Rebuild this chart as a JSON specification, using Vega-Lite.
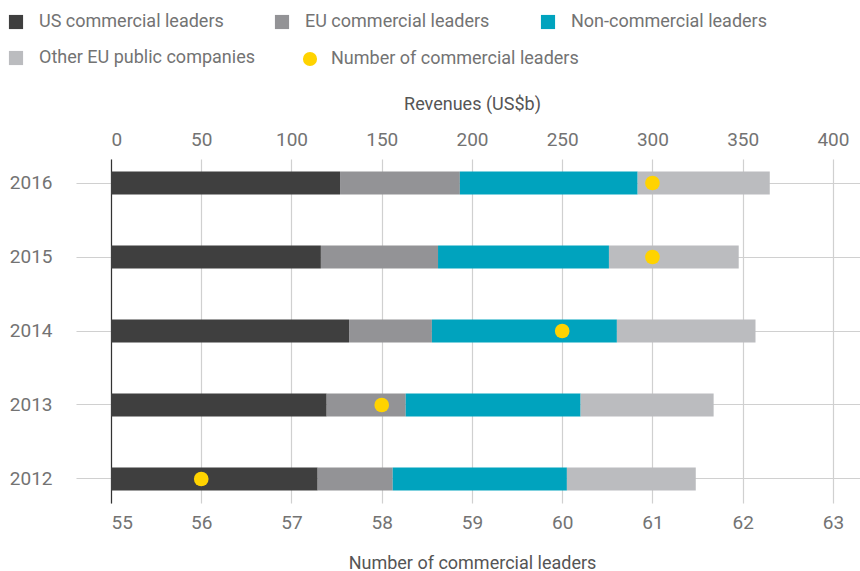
{
  "$schema": "https://vega.github.io/schema/vega-lite/v6.json",
  "autosize": {"type": "none"},
  "padding": {"left": 111, "top": 159, "right": 0, "bottom": 68},
  "width": 749,
  "height": 344,
  "background": "white",
  "datasets": {
    "revenues": [
      {"year": "2016", "series": "US commercial leaders", "value": 126.9},
      {"year": "2016", "series": "EU commercial leaders", "value": 66.4},
      {"year": "2016", "series": "Non-commercial leaders", "value": 98.5},
      {"year": "2016", "series": "Other EU public companies", "value": 73.2},
      {"year": "2015", "series": "US commercial leaders", "value": 116.3},
      {"year": "2015", "series": "EU commercial leaders", "value": 64.9},
      {"year": "2015", "series": "Non-commercial leaders", "value": 94.7},
      {"year": "2015", "series": "Other EU public companies", "value": 71.9},
      {"year": "2014", "series": "US commercial leaders", "value": 131.9},
      {"year": "2014", "series": "EU commercial leaders", "value": 45.9},
      {"year": "2014", "series": "Non-commercial leaders", "value": 102.5},
      {"year": "2014", "series": "Other EU public companies", "value": 76.8},
      {"year": "2013", "series": "US commercial leaders", "value": 119.5},
      {"year": "2013", "series": "EU commercial leaders", "value": 43.8},
      {"year": "2013", "series": "Non-commercial leaders", "value": 96.9},
      {"year": "2013", "series": "Other EU public companies", "value": 73.7},
      {"year": "2012", "series": "US commercial leaders", "value": 114.5},
      {"year": "2012", "series": "EU commercial leaders", "value": 41.6},
      {"year": "2012", "series": "Non-commercial leaders", "value": 96.5},
      {"year": "2012", "series": "Other EU public companies", "value": 71.4}
    ],
    "leaders": [
      {"year": "2016", "leaders": 61},
      {"year": "2015", "leaders": 61},
      {"year": "2014", "leaders": 60},
      {"year": "2013", "leaders": 58},
      {"year": "2012", "leaders": 56}
    ]
  },
  "config": {
    "view": {"stroke": null},
    "font": "Roboto",
    "axis": {
      "labelFont": "Roboto",
      "titleFont": "Roboto",
      "labelFontSize": 19,
      "labelColor": "#737373",
      "titleFontSize": 18,
      "titleFontWeight": "normal",
      "titleColor": "#555555",
      "gridColor": "#d0d0d0",
      "gridWidth": 1.2
    },
    "legend": {
      "labelFont": "Roboto",
      "labelFontSize": 18,
      "labelColor": "#737373",
      "labelLimit": 400
    }
  },
  "encoding": {
    "y": {
      "field": "year",
      "type": "ordinal",
      "sort": "descending",
      "scale": {"paddingInner": 0.689, "paddingOuter": 0.169},
      "axis": {
        "title": null,
        "orient": "left",
        "domain": true,
        "domainColor": "#333333",
        "domainWidth": 1.2,
        "ticks": true,
        "tickColor": "#d0d0d0",
        "tickWidth": 1.2,
        "tickSize": 35,
        "labelPadding": 24,
        "grid": true
      }
    }
  },
  "layer": [
    {
      "data": {"name": "revenues"},
      "transform": [
        {"calculate": "indexof(['US commercial leaders','EU commercial leaders','Non-commercial leaders','Other EU public companies'], datum.series)", "as": "stackOrder"}
      ],
      "mark": {"type": "bar"},
      "encoding": {
        "x": {
          "field": "value",
          "type": "quantitative",
          "stack": "zero",
          "scale": {"domain": [0, 415], "nice": false, "zero": true},
          "axis": {
            "orient": "top",
            "title": "Revenues (US$b)",
            "values": [0, 50, 100, 150, 200, 250, 300, 350, 400],
            "domain": false,
            "ticks": false,
            "labelPadding": 10,
            "grid": true,
            "titleX": 361,
            "titleY": -55,
            "titleBaseline": "middle",
            "titleAlign": "center"
          }
        },
        "color": {
          "field": "series",
          "type": "nominal",
          "scale": {
            "domain": ["US commercial leaders", "EU commercial leaders", "Non-commercial leaders", "Other EU public companies"],
            "range": ["#3f3f3f", "#939396", "#00a3be", "#bbbcbf"]
          },
          "legend": {
            "title": null,
            "orient": "none",
            "legendX": -104,
            "legendY": -146,
            "direction": "horizontal",
            "columns": 3,
            "gridAlign": "all",
            "columnPadding": 18,
            "rowPadding": 18,
            "symbolType": "square",
            "symbolSize": 200,
            "symbolStrokeWidth": 0,
            "labelOffset": 14,
            "padding": 0
          }
        },
        "order": {"field": "stackOrder", "type": "quantitative"}
      }
    },
    {
      "data": {"name": "leaders"},
      "mark": {"type": "circle", "size": 215, "opacity": 1},
      "encoding": {
        "x": {
          "field": "leaders",
          "type": "quantitative",
          "scale": {"domain": [55, 63.3], "nice": false, "zero": false},
          "axis": {
            "orient": "bottom",
            "title": "Number of commercial leaders",
            "values": [55, 56, 57, 58, 59, 60, 61, 62, 63],
            "domain": false,
            "ticks": false,
            "grid": false,
            "labelPadding": 10,
            "titleX": 361,
            "titleY": 60,
            "titleBaseline": "middle",
            "titleAlign": "center"
          }
        },
        "fill": {
          "datum": "Number of commercial leaders",
          "type": "nominal",
          "scale": {"range": ["#ffd300"]},
          "legend": {
            "title": null,
            "orient": "none",
            "legendX": 190,
            "legendY": -109,
            "symbolType": "circle",
            "symbolSize": 200,
            "symbolStrokeWidth": 0,
            "labelOffset": 12,
            "padding": 0
          }
        }
      }
    }
  ],
  "resolve": {"scale": {"x": "independent"}}
}
